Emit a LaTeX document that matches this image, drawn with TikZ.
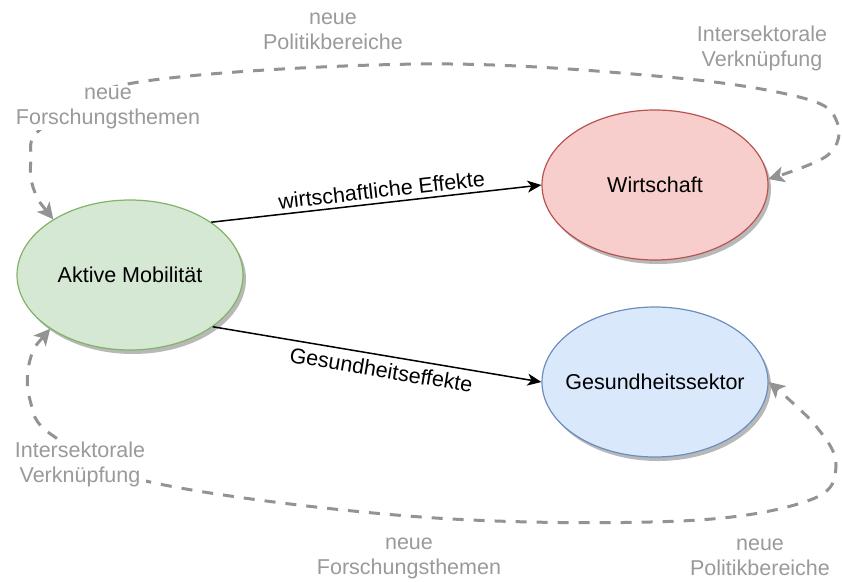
\documentclass[tikz,border=0pt]{standalone}
\usepackage{fontspec}
\setmainfont{Liberation Sans}
\usetikzlibrary{arrows.meta,shapes.geometric,shadows}
\definecolor{amfill}{HTML}{D5E8D4}
\definecolor{amdraw}{HTML}{82B366}
\definecolor{wifill}{HTML}{F8CECC}
\definecolor{widraw}{HTML}{B85450}
\definecolor{gsfill}{HTML}{DAE8FC}
\definecolor{gsdraw}{HTML}{6C8EBF}
\definecolor{linkgray}{HTML}{939393}
\definecolor{textgray}{HTML}{9A9A9A}
\tikzset{
    sector/.style={
        ellipse,
        line width=1.2pt,
        inner xsep=-25pt,
        inner ysep=0pt,
        minimum width=226pt,
        minimum height=150pt,
        font=\fontsize{21.5}{25}\selectfont,
        drop shadow={shadow xshift=3pt, shadow yshift=-4pt, fill=black!35, opacity=0.8},
    },
    effect/.style={
        line width=1.5pt,
        -{Stealth[length=14pt, width=12pt, inset=4pt]},
    },
    link/.style={
        draw=linkgray,
        line width=3pt,
        dash pattern=on 11pt off 10pt,
        {Stealth[length=16pt, width=16pt, inset=4pt]}-{Stealth[length=16pt, width=16pt, inset=4pt]},
    },
    linktext/.style={
        font=\fontsize{21.5}{25}\selectfont,
        align=center,
        text=textgray,
    },
}
\begin{document}
\begin{tikzpicture}[x=1pt, y=-1pt]
    \useasboundingbox (0,0) rectangle (842,581);
    % sectors
    \node [sector, fill=amfill, draw=amdraw] (am) at (130,275) {Aktive Mobilität};
    \node [sector, fill=wifill, draw=widraw] (wi) at (655,185) {Wirtschaft};
    \node [sector, fill=gsfill, draw=gsdraw] (gs) at (655,382) {Gesundheitssektor};
    % effects
    \path [effect] (am.33) edge node [above=1pt, sloped, pos=0.52, font=\fontsize{21.5}{25}\selectfont] {wirtschaftliche Effekte} (wi.west);
    \path [effect] (am.-32) edge node [below=2.5pt, sloped, pos=0.52, font=\fontsize{21.5}{25}\selectfont] {Gesundheitseffekte} (gs.west);
    % links
    \draw [link] plot [smooth, tension=0.6] coordinates {(am.144) (34,190) (31,160) (42,128) (133,83) (421,64) (667,77) (803,98) (837,122) (828,155) (wi.3)};
    \draw [link] plot [smooth, tension=0.6] coordinates {(am.214) (30,360) (30,400) (52,435) (150,482) (421,517) (680,521) (810,500) (836,465) (815,425) (gs.east)};
    % link texts
    \node [linktext] (tpol) at (333,31) {neue\\Politikbereiche};
    \node [linktext, fill=white, inner sep=1pt] (tfor) at (108,108) {neue\\Forschungsthemen};
    \node [linktext] (tint) at (762,48) {Intersektorale\\Verknüpfung};
    \node [linktext, fill=white, inner sep=1pt] (bint) at (80,464) {Intersektorale\\Verknüpfung};
    \node [linktext] (bfor) at (409,558) {neue\\Forschungsthemen};
    \node [linktext] (bpol) at (760,557) {neue\\Politikbereiche};
\end{tikzpicture}
\end{document}
